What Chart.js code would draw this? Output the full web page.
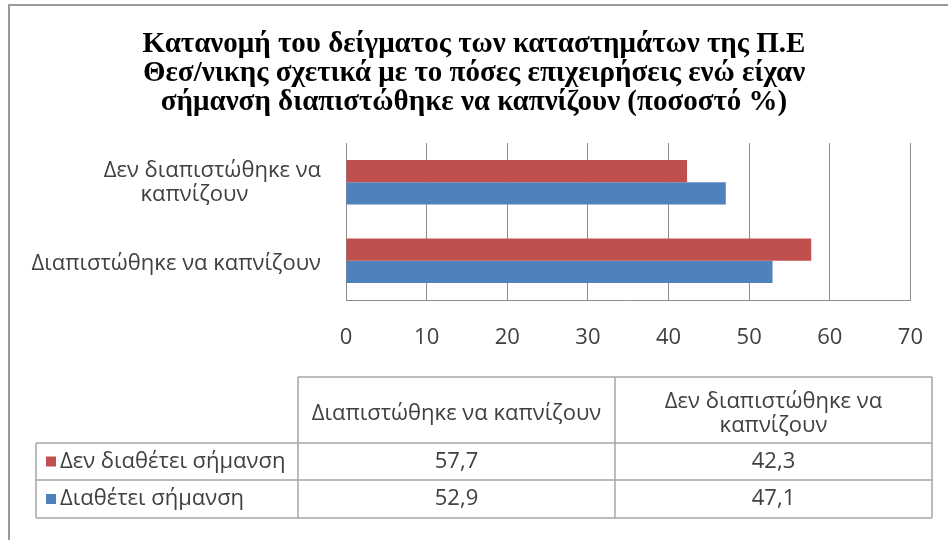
<!DOCTYPE html>
<html><head><meta charset="utf-8">
<script src="https://cdn.jsdelivr.net/npm/chart.js@4/dist/chart.umd.min.js"></script>
<style>html,body{margin:0;padding:0;background:#fff;}#wrap{position:relative;width:948px;height:540px;}</style>
</head><body><div id="wrap"><canvas id="c" width="948" height="540"></canvas></div>
<script>
const titleLines = [
  'Κατανομή του δείγματος των καταστημάτων της Π.Ε',
  'Θεσ/νικης σχετικά με το πόσες επιχειρήσεις ενώ είχαν',
  'σήμανση διαπιστώθηκε να καπνίζουν (ποσοστό %)'
];
const categories = ['Διαπιστώθηκε να καπνίζουν', 'Δεν διαπιστώθηκε να καπνίζουν'];
const seriesNames = ['Δεν διαθέτει σήμανση', 'Διαθέτει σήμανση'];
const noSignValues = [57.7, 42.3];
const signValues = [52.9, 47.1];
const xTickValues = [0, 10, 20, 30, 40, 50, 60, 70];
const seriesColors = ['#C0504D', '#4F81BD'];

const SANS = '"Open Sans", "Noto Sans", sans-serif';
const FS = 22;
const TEXT = '#404040';
const LINE = '#a6a6a6';

function wrap(ctx, text, maxW) {
  const words = text.split(' ');
  const lines = [];
  let cur = '';
  for (const w of words) {
    const t = cur ? cur + ' ' + w : w;
    if (ctx.measureText(t).width > maxW && cur) { lines.push(cur); cur = w; }
    else cur = t;
  }
  if (cur) lines.push(cur);
  return lines;
}
const fmt = v => v.toFixed(1).replace('.', ',');

const chartLabels = categories.slice().reverse();
const allSeries = [noSignValues, signValues];

const framePlugin = {
  id: 'frame',
  beforeDraw(chart) {
    const ctx = chart.ctx;
    ctx.save();
    ctx.strokeStyle = '#9a9a9a';
    ctx.lineWidth = 2;
    ctx.beginPath();
    ctx.moveTo(9, 540); ctx.lineTo(9, 5); ctx.lineTo(948, 5);
    ctx.stroke();
    ctx.restore();
  }
};

const yLabelPlugin = {
  id: 'ylabels',
  afterDraw(chart) {
    const ctx = chart.ctx;
    const ys = chart.scales.y;
    const right = chart.chartArea.left - 25;
    ctx.save();
    ctx.font = FS + 'px ' + SANS;
    ctx.fillStyle = TEXT;
    ctx.textAlign = 'center';
    ctx.textBaseline = 'middle';
    const lh = 24;
    chartLabels.forEach((lab, i) => {
      const lines = wrap(ctx, lab, 300);
      const bw = Math.max(...lines.map(l => ctx.measureText(l).width));
      const cx = right - bw / 2;
      const cy = ys.getPixelForTick(i) + (lines.length === 1 ? 3 : 0);
      lines.forEach((l, k) => {
        const off = (lines.length > 1 && k > 0) ? -18 : 0;
        ctx.fillText(l, cx + off, cy + (k - (lines.length - 1) / 2) * lh);
      });
    });
    ctx.restore();
  }
};

const tablePlugin = {
  id: 'datatable',
  afterDraw(chart) {
    const ctx = chart.ctx;
    const colX = [36, 298, 615, 932];
    const rowY = [377, 443, 480, 518];
    ctx.save();
    ctx.strokeStyle = LINE;
    ctx.lineWidth = 1.5;
    ctx.beginPath();
    ctx.moveTo(colX[1], rowY[0]); ctx.lineTo(colX[3], rowY[0]);
    for (let r = 1; r < rowY.length; r++) { ctx.moveTo(colX[0], rowY[r]); ctx.lineTo(colX[3], rowY[r]); }
    ctx.moveTo(colX[0], rowY[1]); ctx.lineTo(colX[0], rowY[3]);
    for (let c = 1; c < colX.length; c++) { ctx.moveTo(colX[c], rowY[0]); ctx.lineTo(colX[c], rowY[3]); }
    ctx.stroke();

    ctx.font = FS + 'px ' + SANS;
    ctx.fillStyle = TEXT;
    ctx.textBaseline = 'middle';
    ctx.textAlign = 'center';
    const lh = 24;
    categories.forEach((cat, c) => {
      const cx = (colX[c + 1] + colX[c + 2]) / 2;
      const lines = wrap(ctx, cat, colX[c + 2] - colX[c + 1] - 16);
      const cy = 414;
      lines.forEach((l, k) => ctx.fillText(l, cx, cy + (k - (lines.length - 1) / 2) * lh));
    });
    seriesNames.forEach((name, r) => {
      const cy = (rowY[r + 1] + rowY[r + 2]) / 2;
      ctx.fillStyle = seriesColors[r];
      ctx.fillRect(colX[0] + 10, cy - 5, 10, 10);
      ctx.fillStyle = TEXT;
      ctx.textAlign = 'left';
      ctx.fillText(name, colX[0] + 24, cy);
      ctx.textAlign = 'center';
      allSeries[r].forEach((v, c) => {
        ctx.fillText(fmt(v), (colX[c + 1] + colX[c + 2]) / 2, cy);
      });
    });
    ctx.restore();
  }
};

new Chart(document.getElementById('c'), {
  type: 'bar',
  data: {
    labels: chartLabels,
    datasets: seriesNames.map((n, i) => ({
      label: n,
      data: allSeries[i].slice().reverse(),
      backgroundColor: seriesColors[i],
      borderWidth: 0,
      barPercentage: 1,
      categoryPercentage: 0.57
    }))
  },
  options: {
    indexAxis: 'y',
    responsive: false,
    animation: false,
    devicePixelRatio: 1,
    layout: { padding: { left: 29, right: 29, top: 0, bottom: 0 } },
    plugins: {
      legend: { display: false },
      tooltip: { enabled: false },
      title: {
        display: true,
        text: titleLines,
        color: '#000',
        font: { family: '"Liberation Serif", "DejaVu Serif", serif', size: 29, weight: 'bold', lineHeight: 1.0 },
        padding: { top: 30, bottom: 26 }
      }
    },
    scales: {
      x: {
        min: 0, max: 70,
        afterBuildTicks(s) { s.ticks = xTickValues.map(v => ({ value: v })); },
        ticks: { padding: 25, color: TEXT, font: { family: SANS, size: FS } },
        grid: { color: '#8c8c8c', drawTicks: false },
        border: { color: '#8c8c8c' },
        afterFit(s) { s.height = 240; }
      },
      y: {
        ticks: { display: false },
        grid: { display: false },
        border: { color: '#8c8c8c' },
        afterFit(s) { s.width = 317; }
      }
    }
  },
  plugins: [framePlugin, yLabelPlugin, tablePlugin]
});
</script></body></html>
